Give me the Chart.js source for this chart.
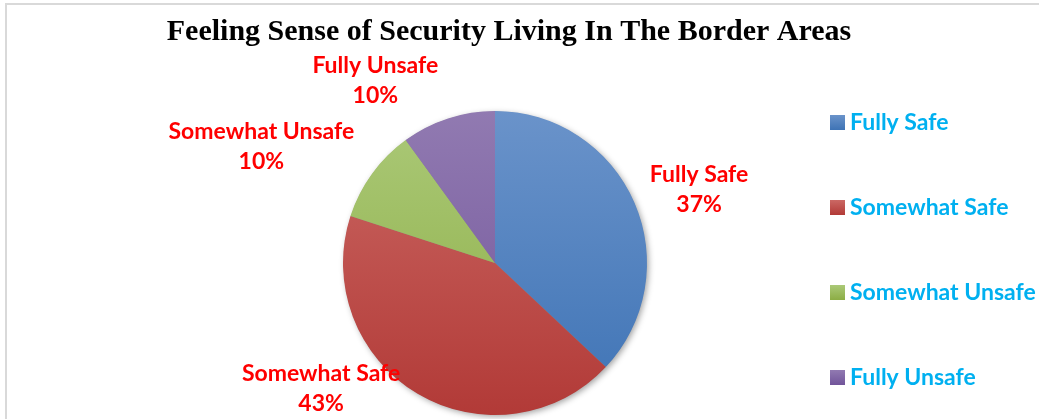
<!DOCTYPE html>
<html>
<head>
<meta charset="utf-8">
<script src="https://cdn.jsdelivr.net/npm/chart.js@4/dist/chart.umd.min.js"></script>
<style>
  html, body { margin: 0; padding: 0; background: #ffffff; }
  #wrap { position: relative; width: 1039px; height: 419px; }
  canvas { display: block; }
</style>
</head>
<body>
<div id="wrap"><canvas id="c" width="1039" height="419"></canvas></div>
<script>
// ---- data ----
const chartTitle = 'Feeling Sense of Security Living In The Border Areas';
const categories = ['Fully Safe', 'Somewhat Safe', 'Somewhat Unsafe', 'Fully Unsafe'];
const shares = [37, 43, 10, 10];
const percentLabels = ['37%', '43%', '10%', '10%'];

// ---- styles ----
const sliceTop = ['#6a93ca', '#cb6864', '#abc978', '#917ab1'];
const sliceBottom = ['#3e73b5', '#b23a37', '#8cad44', '#71549a'];
const labelFont = 'bold 23px "Lato", "Open Sans", sans-serif';
const labelColor = '#ff0000';
const legendColor = '#00b0f0';
// nudges of data labels from the mid-angle anchor (layout only)
const labelNudge = [[6, 5], [-64, -68], [-59, 3], [-53, 15]];

function vGrad(chart, i) {
  const a = chart.chartArea;
  if (!a) return sliceBottom[i];
  const g = chart.ctx.createLinearGradient(0, a.top, 0, a.bottom);
  g.addColorStop(0, sliceTop[i]);
  g.addColorStop(1, sliceBottom[i]);
  return g;
}

const decorPlugin = {
  id: 'decor',
  beforeDraw(chart) {
    const ctx = chart.ctx;
    ctx.save();
    ctx.fillStyle = '#ffffff';
    ctx.fillRect(0, 0, chart.width, chart.height);
    ctx.strokeStyle = '#d9d9d9';
    ctx.lineWidth = 2;
    ctx.strokeRect(6, 4, chart.width + 10, chart.height + 10);
    ctx.restore();
  },
  beforeDatasetsDraw(chart) {
    const arc = chart.getDatasetMeta(0).data[0];
    if (!arc) return;
    const ctx = chart.ctx;
    ctx.save();
    ctx.shadowColor = 'rgba(0,0,0,0.38)';
    ctx.shadowBlur = 6;
    ctx.shadowOffsetX = 2;
    ctx.shadowOffsetY = 2;
    ctx.fillStyle = '#888888';
    ctx.beginPath();
    ctx.arc(arc.x, arc.y, arc.outerRadius - 0.5, 0, Math.PI * 2);
    ctx.fill();
    ctx.restore();
  },
  afterDraw(chart) {
    const ctx = chart.ctx;
    ctx.save();
    // title
    ctx.fillStyle = '#000000';
    ctx.font = 'bold 30px "Liberation Serif", "Times New Roman", serif';
    ctx.textAlign = 'center';
    ctx.textBaseline = 'alphabetic';
    ctx.fillText(chartTitle, 509, 40);

    // data labels
    const meta = chart.getDatasetMeta(0);
    ctx.font = labelFont;
    ctx.fillStyle = labelColor;
    meta.data.forEach((arc, i) => {
      const mid = (arc.startAngle + arc.endAngle) / 2;
      const d = arc.outerRadius * 1.42;
      const x = arc.x + Math.cos(mid) * d + labelNudge[i][0];
      const y = arc.y + Math.sin(mid) * d + labelNudge[i][1];
      ctx.fillText(categories[i], x, y);
      ctx.fillText(percentLabels[i], x, y + 30);
    });

    // legend
    ctx.textAlign = 'left';
    const lx = 830, ly = 115, step = 85;
    categories.forEach((name, i) => {
      const top = ly + i * step;
      const g = ctx.createLinearGradient(0, top, 0, top + 15);
      g.addColorStop(0, sliceTop[i]);
      g.addColorStop(1, sliceBottom[i]);
      ctx.fillStyle = g;
      ctx.fillRect(lx, top, 15, 15);
      ctx.fillStyle = legendColor;
      ctx.font = labelFont;
      ctx.fillText(name, lx + 20, top + 15);
    });
    ctx.restore();
  }
};

new Chart(document.getElementById('c'), {
  type: 'pie',
  data: {
    labels: categories,
    datasets: [{
      data: shares,
      backgroundColor: (c) => vGrad(c.chart, c.dataIndex),
      borderWidth: 0,
      hoverOffset: 0,
      offset: 0
    }]
  },
  options: {
    responsive: false,
    animation: false,
    devicePixelRatio: 1,
    layout: { padding: { left: 343, right: 392, top: 111, bottom: 4 } },
    plugins: {
      legend: { display: false },
      title: { display: false },
      tooltip: { enabled: false }
    }
  },
  plugins: [decorPlugin]
});
</script>
</body>
</html>
